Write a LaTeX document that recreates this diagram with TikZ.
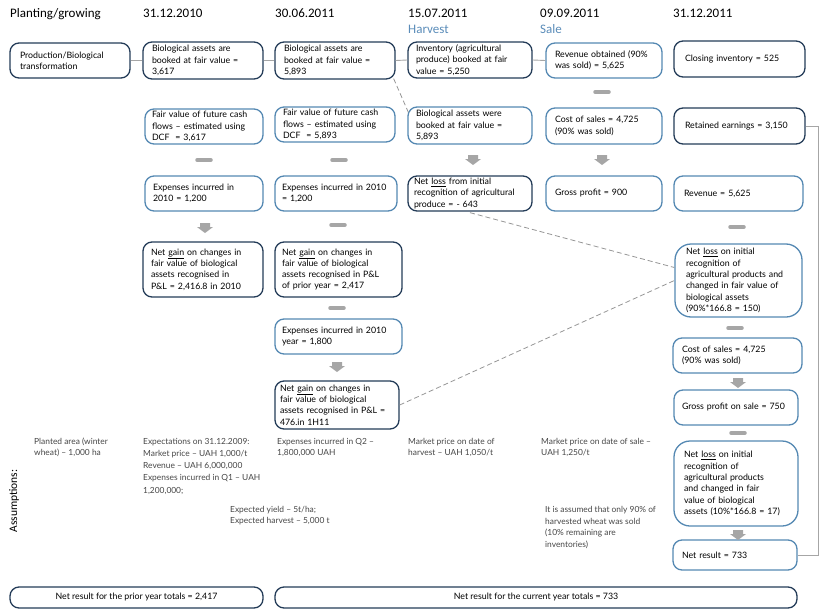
\documentclass[tikz,border=0pt]{standalone}
\usepackage{fontspec}
\setmainfont{Lato}
\newfontfamily\hdfont{Carlito}
\usetikzlibrary{calc}
\definecolor{navy}{RGB}{36,60,88}
\definecolor{lblue}{RGB}{84,136,178}
\definecolor{hblue}{RGB}{90,140,185}
\definecolor{lgray}{RGB}{166,166,166}
\definecolor{dgray}{RGB}{150,150,150}
\definecolor{atext}{RGB}{70,70,70}
\begin{document}
\begin{tikzpicture}[x=1pt,y=-1pt,
  bx/.style={draw, rounded corners=9pt, line width=1.3pt, align=left,
    font=\fontsize{8.8}{11.3}\selectfont, inner xsep=0pt, inner ysep=0pt},
  dk/.style={bx, draw=navy},
  lt/.style={bx, draw=lblue},
  sz/.style n args={3}{minimum width=#1pt, minimum height=#2pt, text width=#3pt},
  hd/.style={font=\hdfont\fontsize{13}{15}\selectfont, anchor=base west, inner sep=0pt},
  asm/.style={font=\fontsize{8.4}{11}\selectfont, text=atext, anchor=north west, align=left, inner sep=0pt},
  conn/.style={draw=lgray, line width=0.9pt},
  dsh/.style={draw=dgray, line width=0.8pt, dash pattern=on 5pt off 3pt},
  minus/.style={draw=lgray, line width=3.5pt, line cap=round},
]
\useasboundingbox (0,0) rectangle (819,610);

% headers
\node[hd] (h0) at (10,18) {Planting/growing};
\node[hd] (h1) at (143,18) {31.12.2010};
\node[hd] (h2) at (275,18) {30.06.2011};
\node[hd] (h3) at (408,18) {15.07.2011};
\node[hd] (h4) at (540,18) {09.09.2011};
\node[hd] (h5) at (673,18) {31.12.2011};
\node[hd, text=hblue] (hh) at (408,34) {Harvest};
\node[hd, text=hblue] (hs) at (540,34) {Sale};

% row 1
\node[dk, sz={120}{35}{100}] (A1) at (70,60.5) {Production/Biological\\transformation};
\node[dk, sz={120}{37}{102}] (B1) at (203,60.5) {Biological assets are\\booked at fair value =\\3,617};
\node[dk, sz={120}{37}{102}] (C1) at (335,60.5) {Biological assets are\\booked at fair value =\\5,893};
\node[dk, sz={124}{36}{108}] (D1) at (470,60) {Inventory (agricultural\\produce) booked at fair\\value = 5,250};
\node[lt, sz={116}{35}{98}] (E1) at (604,60.5) {Revenue obtained (90\%\\was sold) = 5,625};
\node[dk, sz={131}{36}{109}] (F1) at (739.5,59) {Closing inventory = 525};

% row 2
\node[lt, sz={118}{35}{104}] (B2) at (204,126.5) {Fair value of future cash\\flows – estimated using\\DCF \ = 3,617};
\node[lt, sz={120}{35}{104}] (C2) at (335,124.5) {Fair value of future cash\\flows – estimated using\\DCF \ = 5,893};
\node[lt, sz={124}{37}{108}] (D2) at (470,125.5) {Biological assets were\\booked at fair value =\\5,893};
\node[lt, sz={116}{36}{98}] (E2) at (604,126) {Cost of sales = 4,725\\(90\% was sold)};
\node[dk, sz={131}{36}{109}] (F2) at (739.5,126) {Retained earnings = 3,150};

% row 3
\node[lt, sz={118}{35}{102}] (B3) at (204,193.5) {Expenses incurred in\\2010 = 1,200};
\node[lt, sz={122}{35}{108}] (C3) at (336,193.5) {Expenses incurred in 2010\\= 1,200};
\node[dk, sz={124}{35}{112}] (D3) at (470,193.5) {Net \underline{loss} from initial\\recognition of agricultural\\produce = - 643};
\node[lt, sz={116}{35}{98}] (E3) at (604,193.5) {Gross profit = 900};
\node[lt, sz={129}{35}{109}] (F3) at (738.5,193.5) {Revenue = 5,625};

% column C lower
\node[dk, sz={120}{55}{104}] (B4) at (203,269.5) {Net \underline{gain} on changes in\\fair value of biological\\assets recognised in\\P\&L = 2,416.8 in 2010};
\node[dk, sz={127}{55}{113}] (C4) at (338.5,269.5) {Net \underline{gain} on changes in\\fair value of biological\\assets recognised in P\&L\\of prior year = 2,417};
\node[lt, sz={127}{35}{113}] (C5) at (338.5,336.5) {Expenses incurred in 2010\\year = 1,800};
\node[dk, sz={124}{48}{114}] (C6) at (337,405) {Net \underline{gain} on changes in\\fair value of biological\\assets recognised in P\&L =\\476.in 1H11};

% column F lower
\node[lt, sz={127}{73}{105}, rounded corners=16pt] (F4) at (738.5,280.5) {Net \underline{loss} on initial\\recognition of\\agricultural products and\\changed in fair value of\\biological assets\\(90\%*166.8 = 150)};
\node[lt, sz={129}{35}{111}] (F5) at (737.5,355.5) {Cost of sales = 4,725\\(90\% was sold)};
\node[lt, sz={124}{35}{108}] (F6) at (736,407.5) {Gross profit on sale = 750};
\node[lt, sz={124}{85}{104}, rounded corners=16pt] (F7) at (736,483.5) {Net \underline{loss} on initial\\recognition of\\agricultural products\\and changed in fair\\value of biological\\assets (10\%*166.8 = 17)};
\node[lt, sz={124}{30}{106}] (F8) at (735,555) {Net result = 733};

% bottom totals
\node[dk, minimum width=253pt, minimum height=21pt, align=center] (G1) at (136.5,597.5) {Net result for the prior year totals = 2,417};
\node[dk, minimum width=522pt, minimum height=21pt, align=center] (G2) at (536,597.5) {Net result for the current year totals = 733};

% connectors
\draw[conn] (A1.east) -- (B1.west);
\draw[conn] (B1.east) -- (C1.west);
\draw[conn] (C1.east) -- (D1.west);
\draw[conn] (D1.east) -- (E1.west);
\draw[conn] (F2.east) -- ++(13,0) |- (F8.east);

\draw[dsh] ($(C1.south east)+(-2,-1)$) -- ($(D2.north west)+(1,6)$);
\draw[dsh] ($(D3.south)+(0,1)$) -- ($(F4.west)+(0,-13)$);
\draw[dsh] (C6.east) -- ($(F4.west)+(0,0)$);

% minus signs
\foreach \x/\y in {204/160, 339/160, 602/92, 338/225, 737/227, 337/308, 735/328, 738/433}
  \draw[minus] (\x-7,\y) -- (\x+7,\y);

% down arrows
\foreach \x/\y in {473/160, 602/160, 205/228, 337/367, 738/383, 738/535}
  \fill[lgray] (\x-5,\y-5) -- (\x+5,\y-5) -- (\x+5,\y-1) -- (\x+8,\y-1) -- (\x,\y+5) -- (\x-8,\y-1) -- (\x-5,\y-1) -- cycle;

% assumptions
\node[font=\hdfont\fontsize{11.5}{13}\selectfont, rotate=90, inner sep=0pt] (asl) at (14,501) {Assumptions:};
\node[asm] (a1) at (34,438) {Planted area (winter\\wheat) – 1,000 ha};
\node[asm, font=\fontsize{8.4}{12.2}\selectfont] (a2) at (143,438) {Expectations on 31.12.2009:\\Market price – UAH 1,000/t\\Revenue – UAH 6,000,000\\Expenses incurred in Q1 – UAH\\1,200,000;};
\node[asm] (a3) at (230,506) {Expected yield – 5t/ha;\\Expected harvest – 5,000 t};
\node[asm] (a4) at (277,438) {Expenses incurred in Q2 –\\1,800,000 UAH};
\node[asm] (a5) at (408,438) {Market price on date of\\harvest – UAH 1,050/t};
\node[asm] (a6) at (541,438) {Market price on date of sale –\\UAH 1,250/t};
\node[asm, font=\fontsize{8.4}{11.7}\selectfont] (a7) at (545,506) {It is assumed that only 90\% of\\harvested wheat was sold\\(10\% remaining are\\inventories)};
\end{tikzpicture}
\end{document}
